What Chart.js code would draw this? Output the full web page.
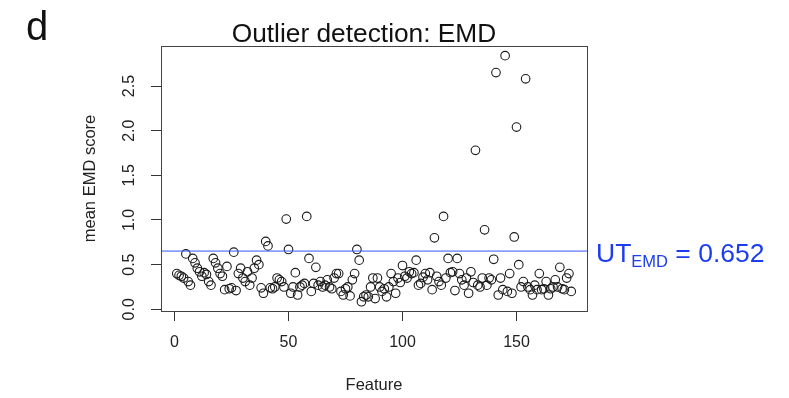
<!DOCTYPE html>
<html>
<head>
<meta charset="utf-8">
<title>Outlier detection: EMD</title>
<script src="https://cdn.jsdelivr.net/npm/chart.js@4/dist/chart.umd.min.js"></script>
<style>
  html, body { margin: 0; padding: 0; background: #fff; }
  canvas { display: block; }
</style>
</head>
<body>
<canvas id="emdChart" width="789" height="398"></canvas>
<script>
// mean EMD score per feature (feature index = position + 1)
const emdScores = [
  0.40, 0.38, 0.37, 0.35, 0.62, 0.31, 0.27, 0.57, 0.52, 0.46,
  0.42, 0.37, 0.41, 0.39, 0.31, 0.27, 0.57, 0.52, 0.46, 0.40,
  0.37, 0.22, 0.48, 0.23, 0.24, 0.64, 0.21, 0.40, 0.46, 0.35,
  0.31, 0.42, 0.27, 0.35, 0.46, 0.55, 0.50, 0.24, 0.18, 0.76,
  0.71, 0.24, 0.23, 0.25, 0.35, 0.33, 0.31, 0.25, 1.01, 0.67,
  0.18, 0.25, 0.41, 0.16, 0.25, 0.27, 0.29, 1.04, 0.57, 0.20,
  0.29, 0.47, 0.27, 0.31, 0.25, 0.27, 0.33, 0.25, 0.23, 0.35,
  0.40, 0.40, 0.20, 0.16, 0.23, 0.25, 0.15, 0.33, 0.40, 0.67,
  0.55, 0.085, 0.14, 0.16, 0.14, 0.25, 0.35, 0.12, 0.35, 0.25,
  0.20, 0.23, 0.14, 0.25, 0.40, 0.31, 0.18, 0.35, 0.30, 0.49,
  0.37, 0.35, 0.42, 0.40, 0.41, 0.55, 0.27, 0.29, 0.36, 0.40,
  0.33, 0.41, 0.22, 0.80, 0.37, 0.31, 0.27, 1.04, 0.35, 0.57,
  0.41, 0.42, 0.21, 0.57, 0.40, 0.33, 0.27, 0.35, 0.18, 0.42,
  0.30, 1.78, 0.27, 0.25, 0.35, 0.89, 0.27, 0.35, 0.33, 0.56,
  2.65, 0.16, 0.35, 0.22, 2.84, 0.20, 0.40, 0.18, 0.81, 2.04,
  0.50, 0.25, 0.31, 2.58, 0.25, 0.22, 0.16, 0.27, 0.22, 0.40,
  0.22, 0.23, 0.31, 0.16, 0.23, 0.25, 0.33, 0.25, 0.47, 0.23,
  0.22, 0.35, 0.40, 0.20
];
const utEmd = 0.652;
const xTicks = [0, 50, 100, 150];
const yTicks = [0, 0.5, 1, 1.5, 2, 2.5];
const yTickLabels = ["0.0", "0.5", "1.0", "1.5", "2.0", "2.5"];

const xMin = -5.92, xMax = 180.92;
const yMin = -0.019, yMax = 2.948;

const FONT = "'Liberation Sans', Arial, Helvetica, sans-serif";

const points = emdScores.map((v, i) => ({ x: i + 1, y: v }));

// R-style decorations: box, tick labels, titles, threshold label
const rDecor = {
  id: "rDecor",
  afterDraw(chart) {
    const ctx = chart.ctx;
    const area = chart.chartArea;
    const xs = chart.scales.x;
    const ys = chart.scales.y;
    ctx.save();

    ctx.strokeStyle = "#444";
    ctx.lineWidth = 1;
    ctx.strokeRect(Math.round(area.left) + 0.5, Math.round(area.top) + 0.5,
      Math.round(area.right - area.left), Math.round(area.bottom - area.top));

    ctx.fillStyle = "#222";
    ctx.font = "16px " + FONT;
    ctx.textAlign = "center";
    ctx.textBaseline = "middle";
    xTicks.forEach((v) => {
      ctx.fillText(String(v), xs.getPixelForValue(v), 343);
    });

    yTicks.forEach((v, i) => {
      ctx.save();
      ctx.translate(130, ys.getPixelForValue(v));
      ctx.rotate(-Math.PI / 2);
      ctx.fillText(yTickLabels[i], 0, 0);
      ctx.restore();
    });

    ctx.font = "16.5px " + FONT;
    ctx.fillText("Feature", (area.left + area.right) / 2, 385);
    ctx.save();
    ctx.translate(90, (area.top + area.bottom) / 2);
    ctx.rotate(-Math.PI / 2);
    ctx.fillText("mean EMD score", 0, 0);
    ctx.restore();

    ctx.fillStyle = "#111";
    ctx.font = "26.3px " + FONT;
    ctx.textBaseline = "alphabetic";
    ctx.fillText("Outlier detection: EMD", 364, 41.5);

    ctx.font = "40px " + FONT;
    ctx.textAlign = "left";
    ctx.fillText("d", 26, 39.5);

    // threshold label
    const ly = ys.getPixelForValue(utEmd) + 10.5;
    ctx.fillStyle = "#1c3cf0";
    ctx.font = "26.5px " + FONT;
    let x = 596;
    ctx.fillText("UT", x, ly);
    x += ctx.measureText("UT").width;
    ctx.font = "16.5px " + FONT;
    ctx.fillText("EMD", x, ly + 5);
    x += ctx.measureText("EMD").width;
    ctx.font = "26.5px " + FONT;
    ctx.fillText(" = 0.652", x, ly);

    ctx.restore();
  }
};

const emdChart = new Chart(document.getElementById("emdChart"), {
  type: "scatter",
  data: {
    datasets: [
      {
        label: "mean EMD score",
        data: points,
        pointRadius: 4.3,
        pointHoverRadius: 4.3,
        pointBackgroundColor: "rgba(0,0,0,0)",
        pointBorderColor: "#1a1a1a",
        pointBorderWidth: 1.1,
        order: 1
      },
      {
        type: "line",
        label: "UT EMD",
        data: [{ x: xMin, y: utEmd }, { x: xMax, y: utEmd }],
        borderColor: "#3355ff",
        borderWidth: 1,
        pointRadius: 0,
        fill: false,
        order: 0
      }
    ]
  },
  options: {
    responsive: false,
    animation: false,
    events: [],
    layout: {
      padding: { left: 0, top: 46, right: 202, bottom: 0 }
    },
    plugins: {
      legend: { display: false },
      tooltip: { enabled: false },
      title: { display: false }
    },
    scales: {
      x: {
        type: "linear",
        min: xMin,
        max: xMax,
        afterBuildTicks: (s) => { s.ticks = xTicks.map((v) => ({ value: v })); },
        afterFit: (s) => { s.height = 87; },
        ticks: { display: false },
        border: { display: false },
        grid: {
          drawOnChartArea: false,
          drawTicks: true,
          tickLength: 10,
          color: "#333",
          lineWidth: 1
        }
      },
      y: {
        type: "linear",
        min: yMin,
        max: yMax,
        afterBuildTicks: (s) => { s.ticks = yTicks.map((v) => ({ value: v })); },
        afterFit: (s) => { s.width = 161; },
        ticks: { display: false },
        border: { display: false },
        grid: {
          drawOnChartArea: false,
          drawTicks: true,
          tickLength: 10,
          color: "#333",
          lineWidth: 1
        }
      }
    }
  },
  plugins: [rDecor]
});
</script>
</body>
</html>
